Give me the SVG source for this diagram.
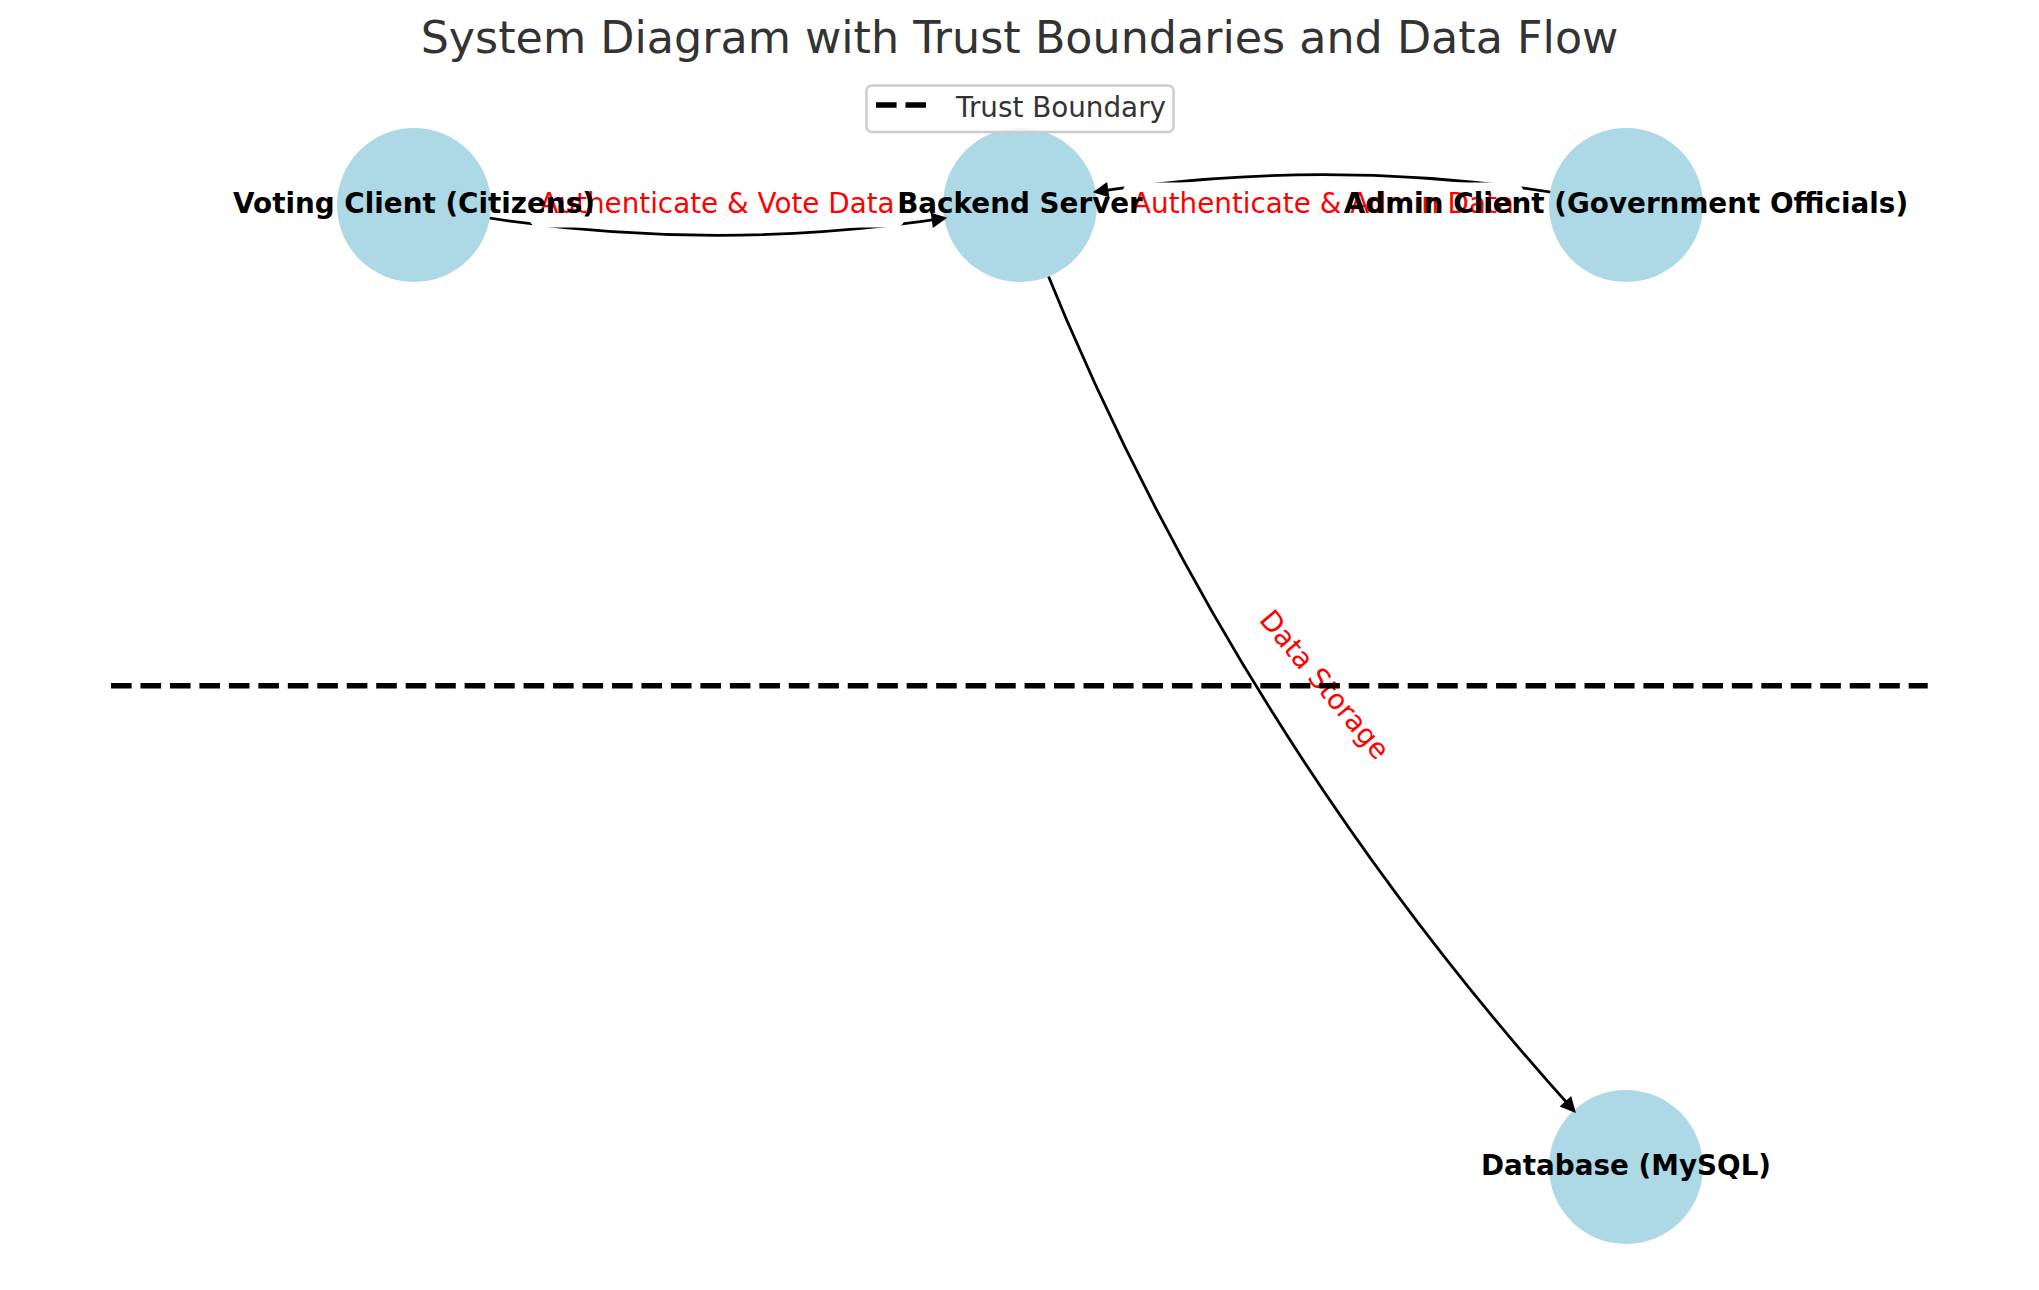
<svg xmlns="http://www.w3.org/2000/svg" width="2039" height="1290" viewBox="0 0 2039 1290">
  <style>
    .node circle { fill: #add8e6; }
    .nlabel { font-family: "DejaVu Sans", "Liberation Sans", sans-serif; font-size: 27.8px; font-weight: bold; fill: #000; text-anchor: middle; }
    .edge { fill: none; stroke: #000; stroke-width: 2.78; }
    .head { fill: none; stroke: #000; stroke-width: 2.78; }
    .elabel-box { fill: #fff; stroke: #fff; stroke-width: 1; }
    .elabel { font-family: "DejaVu Sans", "Liberation Sans", sans-serif; font-size: 27.8px; fill: #ff0000; text-anchor: middle; }
    .boundary { fill: none; stroke: #000; stroke-width: 5.56; stroke-dasharray: 20.6 8.87; }
    .title { font-family: "DejaVu Sans", "Liberation Sans", sans-serif; font-size: 44.4px; fill: #333333; text-anchor: middle; }
    .legend-text { font-family: "DejaVu Sans", "Liberation Sans", sans-serif; font-size: 27.8px; fill: #333333; }
  </style>
  <defs>
    <marker id="arrow" viewBox="0 0 11.1 12" refX="11.1" refY="6" markerWidth="11.1" markerHeight="12" markerUnits="userSpaceOnUse" orient="auto" overflow="visible">
      <path d="M0,0.44 L11.1,6 L0,11.56 Z" fill="#000" stroke="#000" stroke-width="2.78" stroke-linejoin="miter"/>
    </marker>
  </defs>
  <rect x="0" y="0" width="2039" height="1290" fill="#ffffff"/>

  <g id="connectors">
    <path id="edge-voting-backend" class="edge" d="M414,205 Q717,265.6 1020,205"/>
    <path id="edge-admin-backend" class="edge" d="M1626,205 Q1323,144.4 1020,205"/>
    <path id="edge-backend-database" class="edge" d="M1020,205 Q1226.8,746.6 1626,1167"/>
  </g>

  <g id="node-voting-client" class="node"><circle cx="414" cy="205" r="77"/></g>
  <g id="node-backend-server" class="node"><circle cx="1020" cy="205" r="77"/></g>
  <g id="node-admin-client" class="node"><circle cx="1626" cy="205" r="77"/></g>
  <g id="node-database" class="node"><circle cx="1626" cy="1167" r="77"/></g>

  <g id="arrowheads">
    <path class="head" d="M943.1,218.45 L944.1,218.3" marker-end="url(#arrow)"/>
    <path class="head" d="M1096.9,191.55 L1095.9,191.7" marker-end="url(#arrow)"/>
    <path class="head" d="M1573.13,1109.86 L1573.8,1110.6" marker-end="url(#arrow)"/>
  </g>

  <g id="edge-labels">
    <g id="label-voting-backend">
      <rect class="elabel-box" x="530" y="183" width="374" height="44" rx="8.3"/>
      <text class="elabel" x="717" y="212.5">Authenticate &amp; Vote Data</text>
    </g>
    <g id="label-admin-backend">
      <rect class="elabel-box" x="1123.4" y="183" width="399.2" height="44" rx="8.3"/>
      <text class="elabel" x="1323" y="212.5">Authenticate &amp; Admin Data</text>
    </g>
    <g id="label-backend-database" transform="rotate(50 1323 686)">
      <rect class="elabel-box" x="1217.2" y="664" width="211.6" height="44" rx="8.3"/>
      <text class="elabel" x="1323" y="693.5">Data Storage</text>
    </g>
  </g>

  <g id="node-labels">
    <text class="nlabel" x="414" y="213">Voting Client (Citizens)</text>
    <text class="nlabel" x="1020" y="213">Backend Server</text>
    <text class="nlabel" x="1626" y="213">Admin Client (Government Officials)</text>
    <text class="nlabel" x="1626" y="1175">Database (MySQL)</text>
  </g>

  <g id="trust-boundary">
    <path class="boundary" d="M111,685.8 H1927.7"/>
  </g>

  <g id="legend">
    <rect x="866.4" y="85.4" width="307.2" height="46.5" rx="5.5" fill="#ffffff" fill-opacity="0.8" stroke="#cccccc" stroke-width="2.5"/>
    <path class="boundary" d="M876,105 H926"/>
    <text class="legend-text" x="956" y="117.3">Trust Boundary</text>
  </g>

  <text class="title" x="1019.5" y="53.3">System Diagram with Trust Boundaries and Data Flow</text>
</svg>
